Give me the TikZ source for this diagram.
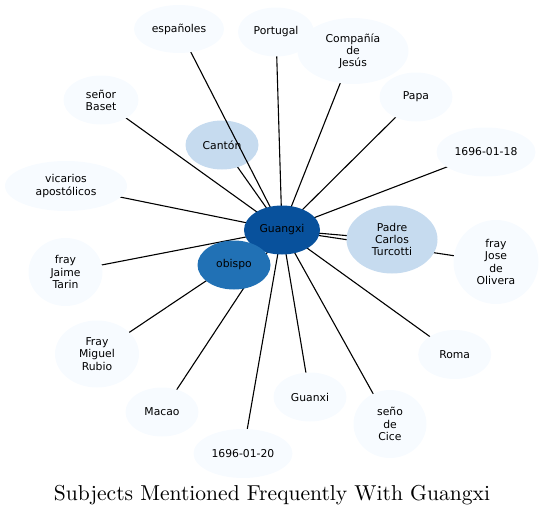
\documentclass[tikz,border=0pt]{standalone}
\usepackage{fontspec}
\newfontfamily\lblfont{DejaVu Sans}
\usetikzlibrary{shapes.geometric}
\pgfdeclarelayer{bottom}
\pgfdeclarelayer{edges}
\pgfsetlayers{bottom,edges,main}
\definecolor{cdark}{HTML}{08519C}
\definecolor{cmid}{HTML}{2171B5}
\definecolor{clight}{HTML}{C6DBEF}
\definecolor{cpale}{HTML}{F7FBFF}
\begin{document}
\begin{tikzpicture}[x=1pt,y=-1pt,
  ent/.style={ellipse, inner sep=0pt, align=center, text=black,
    font=\lblfont\fontsize{10.8}{12.2}\selectfont},
  pale/.style={ent, fill=cpale},
  sz/.style 2 args={minimum width=#1pt, minimum height=#2pt},
  edge/.style={draw=black, line width=1.1pt}]
\useasboundingbox (0,0) rectangle (544,514);
\node[ent, fill=cdark, sz={76}{49}] (g) at (282,230) {Guangxi};
\node[ent, fill=cmid, sz={73}{49}] (ob) at (234,265) {obispo};
\begin{pgfonlayer}{bottom}
\coordinate (cac) at (222,145);
\draw[edge] (g.center) -- (cac);
\node[ent, fill=clight, sz={73}{49}] (ca) at (cac) {Cantón};
\end{pgfonlayer}
\node[ent, fill=clight, sz={91}{68}] (tu) at (392,239.5) {Padre\\Carlos\\Turcotti};
\node[pale, sz={90}{48}] (es) at (179,29) {españoles};
\node[pale, sz={76}{49}] (po) at (276,32) {Portugal};
\node[pale, sz={111}{66}] (cj) at (353,51) {Compañía\\de\\Jesús};
\node[pale, sz={73}{49}] (pa) at (416,97) {Papa};
\node[pale, sz={99}{49}] (d18) at (486,152) {1696-01-18};
\node[pale, sz={75}{49}] (sb) at (101,100) {señor\\Baset};
\node[pale, sz={122}{50}] (va) at (66,186) {vicarios\\apostólicos};
\node[pale, sz={74}{68}] (jt) at (65.5,272) {fray\\Jaime\\Tarin};
\node[pale, sz={85}{84}] (jo) at (496,262) {fray\\Jose\\de\\Olivera};
\node[pale, sz={84}{67}] (mr) at (97,354) {Fray\\Miguel\\Rubio};
\node[pale, sz={73}{49}] (ro) at (454.7,354.5) {Roma};
\node[pale, sz={73}{49}] (ma) at (162,412) {Macao};
\node[pale, sz={73}{49}] (gx) at (310,397) {Guanxi};
\node[pale, sz={73}{68}] (sc) at (390,424) {seño\\de\\Cice};
\node[pale, sz={99}{49}] (d20) at (243,453.5) {1696-01-20};
\begin{pgfonlayer}{edges}
\foreach \t in {ob,tu,es,po,cj,pa,d18,sb,va,jt,jo,mr,ro,ma,gx,sc,d20}
  \draw[edge] (g.center) -- (\t.center);
\end{pgfonlayer}
\node[anchor=base, inner sep=0pt] (title) at (272,500)
  {\resizebox{436pt}{!}{Subjects Mentioned Frequently With Guangxi}};
\end{tikzpicture}
\end{document}
